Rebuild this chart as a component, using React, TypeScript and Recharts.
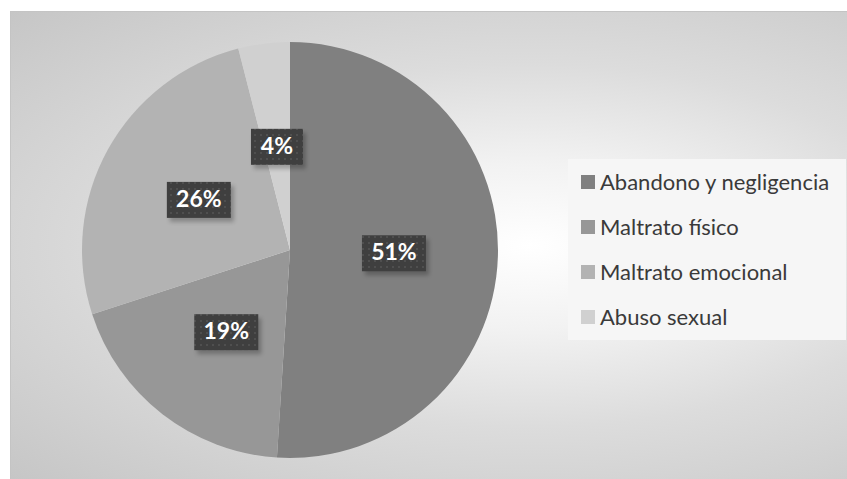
import { PieChart, Pie, Cell, Legend } from 'recharts'

const categories = ['Abandono y negligencia', 'Maltrato físico', 'Maltrato emocional', 'Abuso sexual']
const shares = [51, 19, 26, 4]
const colors = ['#808080', '#979797', '#b3b3b3', '#d0d0d0']

const data = categories.map((name, i) => ({ name, value: shares[i] }))

const RAD = Math.PI / 180

function renderLabel(props: any) {
  const { cx, cy, midAngle, outerRadius, value } = props
  const r = outerRadius * 0.5
  const x = cx + r * Math.cos(-midAngle * RAD)
  const y = cy + r * Math.sin(-midAngle * RAD)
  const w = value >= 10 ? 64 : 52
  const h = 36
  return (
    <g>
      <rect x={x - w / 2 + 3} y={y - h / 2 + 4} width={w} height={h} fill="#000" opacity={0.25} filter="url(#lblShadow)" />
      <rect x={x - w / 2} y={y - h / 2} width={w} height={h} fill="url(#dots)" />
      <text
        x={x}
        y={y + 1}
        textAnchor="middle"
        dominantBaseline="middle"
        fill="#ffffff"
        fontFamily="Lato, sans-serif"
        fontWeight="bold"
        fontSize={23}
      >
        {`${value}%`}
      </text>
    </g>
  )
}

function LegendBox() {
  return (
    <div
      style={{
        background: '#f6f6f6',
        width: 278,
        height: 181,
        boxSizing: 'border-box',
        paddingTop: 0,
        fontFamily: 'Lato, sans-serif',
        fontSize: 22,
        color: '#3a3a3a',
      }}
    >
      {data.map((d, i) => (
        <div key={d.name} style={{ display: 'flex', alignItems: 'center', height: 45, paddingLeft: 13 }}>
          <span style={{ display: 'inline-block', width: 14, height: 14, background: colors[i], marginRight: 5 }} />
          <span>{d.name}</span>
        </div>
      ))}
    </div>
  )
}

export default function App() {
  return (
    <div
      style={{
        position: 'absolute',
        left: 0,
        top: 0,
        width: 847,
        height: 479,
        background: '#ffffff',
      }}
    >
      <div
        style={{
          position: 'absolute',
          left: 10,
          top: 11,
          width: 837,
          height: 468,
          borderLeft: '1px solid #c4c4c4',
          borderTop: '1px solid #c4c4c4',
          boxSizing: 'border-box',
          background: 'radial-gradient(ellipse at 62% 50%, #ffffff 0%, #f2f2f2 25%, #dcdcdc 55%, #c6c6c6 100%)',
        }}
      />
      <div style={{ position: 'absolute', left: 0, top: 0 }}>
        <PieChart width={847} height={479} margin={{ top: 0, right: 0, bottom: 0, left: 0 }}>
          <defs>
            <pattern id="dots" width="6" height="6" patternUnits="userSpaceOnUse">
              <rect width="6" height="6" fill="#3f3f3f" />
              <rect x="2" y="2" width="2" height="2" fill="#4f4f4f" />
            </pattern>
            <filter id="lblShadow" x="-20%" y="-20%" width="140%" height="140%">
              <feGaussianBlur stdDeviation="2" />
            </filter>
          </defs>
          <Pie
            data={data}
            dataKey="value"
            nameKey="name"
            cx={290}
            cy={250}
            outerRadius={208}
            startAngle={90}
            endAngle={-270}
            stroke="none"
            label={renderLabel}
            labelLine={false}
            isAnimationActive={false}
          >
            {data.map((d, i) => (
              <Cell key={d.name} fill={colors[i]} />
            ))}
          </Pie>
          <Legend
            content={() => <LegendBox />}
            wrapperStyle={{ position: 'absolute', left: 568, top: 159, width: 278, height: 181 }}
          />
        </PieChart>
      </div>
    </div>
  )
}
